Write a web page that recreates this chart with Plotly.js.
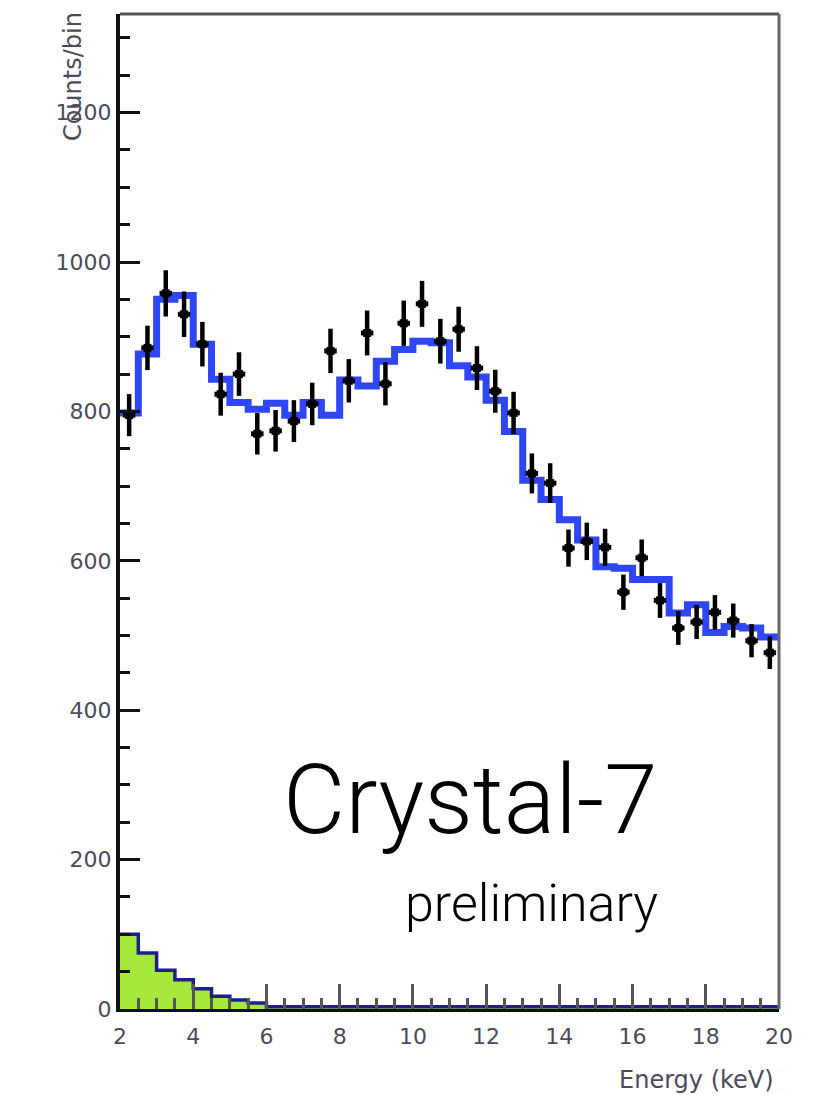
<!DOCTYPE html>
<html>
<head>
<meta charset="utf-8">
<script src="https://cdn.plot.ly/plotly-3.0.1.min.js"></script>
<style>
  html, body { margin: 0; padding: 0; background: #ffffff; }
  #chart { width: 821px; height: 1095px; }
</style>
</head>
<body>
<div id="chart"></div>
<script>
// Bin centres (keV), 0.5 keV bins from 2 to 20
const energies = [2.25, 2.75, 3.25, 3.75, 4.25, 4.75, 5.25, 5.75, 6.25, 6.75,
                  7.25, 7.75, 8.25, 8.75, 9.25, 9.75, 10.25, 10.75, 11.25, 11.75,
                  12.25, 12.75, 13.25, 13.75, 14.25, 14.75, 15.25, 15.75, 16.25, 16.75,
                  17.25, 17.75, 18.25, 18.75, 19.25, 19.75];
// Measured counts per bin (black points)
const dataCounts = [795, 885, 958, 930, 890, 823, 850, 770, 774, 787,
                    810, 881, 841, 905, 837, 918, 944, 894, 910, 858,
                    827, 798, 717, 704, 617, 626, 618, 558, 604, 547,
                    510, 518, 531, 520, 493, 477];
// Fit model (blue histogram)
const fitCounts = [798, 877, 950, 955, 890, 843, 812, 803, 811, 795,
                   812, 795, 842, 834, 867, 883, 894, 892, 861, 846,
                   815, 773, 708, 682, 655, 628, 592, 590, 575, 575,
                   530, 541, 504, 512, 510, 498];
// Background component (green filled histogram)
const bkgCounts = [100, 75, 52, 39, 27, 17, 12, 8, 3, 3,
                   3, 3, 3, 3, 3, 3, 3, 3, 3, 3,
                   3, 3, 3, 3, 3, 3, 3, 3, 3, 3,
                   3, 3, 3, 3, 3, 3];
const xTickVals = [2, 4, 6, 8, 10, 12, 14, 16, 18, 20];
const yTickVals = [0, 200, 400, 600, 800, 1000, 1200];
const binHalfWidth = 0.25;

function stepX(centres) {
  const xs = centres.map(c => c - binHalfWidth);
  xs.push(centres[centres.length - 1] + binHalfWidth);
  return xs;
}
function stepY(vals) {
  const ys = vals.slice();
  ys.push(vals[vals.length - 1]);
  return ys;
}
const poissonErr = dataCounts.map(v => Math.sqrt(v));

const traces = [
  {
    x: stepX(energies), y: stepY(bkgCounts), type: 'scatter', mode: 'lines',
    line: { shape: 'hv', color: '#1c1f8c', width: 3.5 },
    fill: 'tozeroy', fillcolor: '#a6e83a', hoverinfo: 'skip'
  },
  {
    x: stepX(energies), y: stepY(fitCounts), type: 'scatter', mode: 'lines',
    line: { shape: 'hv', color: '#2f46f5', width: 7 }, hoverinfo: 'skip'
  },
  {
    x: energies, y: dataCounts, type: 'scatter', mode: 'markers',
    marker: { color: '#000000', size: 8, symbol: 'square' },
    error_y: { type: 'data', array: poissonErr, visible: true, color: '#000000', thickness: 4.5, width: 0 },
    error_x: { type: 'constant', value: 0.17, visible: true, color: '#000000', thickness: 5, width: 0 }
  }
];

const tickFont = { family: 'DejaVu Sans, sans-serif', size: 22, color: '#4b4b5c' };

const layout = {
  width: 821, height: 1095,
  margin: { l: 120, r: 42, t: 14, b: 86, pad: 0 },
  paper_bgcolor: '#ffffff', plot_bgcolor: '#ffffff',
  showlegend: false,
  xaxis: {
    range: [2, 20], showgrid: false, zeroline: false,
    showline: true, linecolor: '#111111', linewidth: 3,
    tickmode: 'array', tickvals: xTickVals, ticktext: xTickVals.map(String),
    ticks: 'inside', ticklen: 25, tickwidth: 3, tickcolor: '#555555',
    minor: { ticks: 'inside', dtick: 0.5, ticklen: 11, tickwidth: 3, tickcolor: '#555555', showgrid: false },
    tickfont: tickFont, ticklabelstandoff: 6
  },
  yaxis: {
    range: [0, 1332], showgrid: false, zeroline: false,
    showline: true, linecolor: '#111111', linewidth: 4,
    tickmode: 'array', tickvals: yTickVals, ticktext: yTickVals.map(String),
    ticks: 'inside', ticklen: 20, tickwidth: 3, tickcolor: '#111111',
    minor: { ticks: 'inside', dtick: 50, ticklen: 10, tickwidth: 3, tickcolor: '#111111', showgrid: false },
    tickfont: tickFont, ticklabelstandoff: 0
  },
  shapes: [
    { type: 'line', xref: 'paper', yref: 'paper', x0: 0, x1: 1, y0: 1, y1: 1, line: { color: '#555555', width: 3 } },
    { type: 'line', xref: 'paper', yref: 'paper', x0: 1, x1: 1, y0: 0, y1: 1, line: { color: '#666666', width: 3 } }
  ],
  annotations: [
    { text: 'Energy (keV)', xref: 'paper', yref: 'paper', x: 0.996, y: -0.071,
      xanchor: 'right', yanchor: 'middle', showarrow: false,
      font: { family: 'DejaVu Sans, sans-serif', size: 24, color: '#4b4b5c' } },
    { text: 'Counts/bin', xref: 'paper', yref: 'paper', x: -0.072, y: 1.004,
      xanchor: 'center', yanchor: 'top', textangle: -90, showarrow: false,
      font: { family: 'DejaVu Sans, sans-serif', size: 24, color: '#4b4b5c' } },
    { text: 'Crystal-7', xref: 'paper', yref: 'paper', x: 0.8194, y: 0.21,
      xanchor: 'right', yanchor: 'middle', showarrow: false,
      font: { family: 'Roboto, sans-serif', size: 96, color: '#000000', weight: 300 } },
    { text: 'preliminary', xref: 'paper', yref: 'paper', x: 0.8194, y: 0.106,
      xanchor: 'right', yanchor: 'middle', showarrow: false,
      font: { family: 'Roboto, sans-serif', size: 52, color: '#000000', weight: 300 } }
  ]
};

Plotly.newPlot('chart', traces, layout, { staticPlot: true, displayModeBar: false });
</script>
</body>
</html>
